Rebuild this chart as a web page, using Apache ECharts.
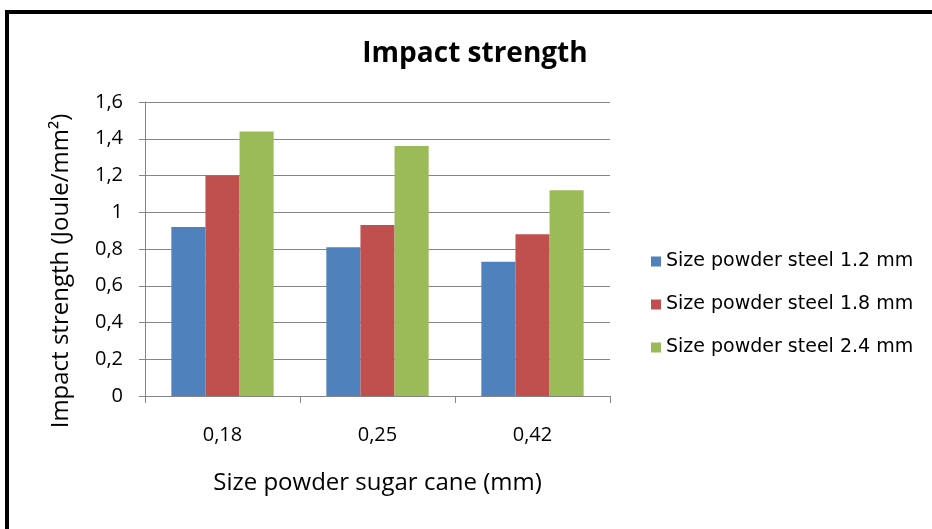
<!DOCTYPE html>
<html>
<head>
<meta charset="utf-8">
<script src="https://cdn.jsdelivr.net/npm/echarts@6/dist/echarts.min.js"></script>
<style>
  html, body { margin: 0; padding: 0; background: #fff; }
  #chart { width: 932px; height: 529px; }
</style>
</head>
<body>
<div id="chart"></div>
<script>
const categories = ['0,18', '0,25', '0,42']
const seriesNames = ['Size powder steel 1.2 mm', 'Size powder steel 1.8 mm', 'Size powder steel 2.4 mm']
const steel12 = [0.92, 0.81, 0.73]
const steel18 = [1.20, 0.93, 0.88]
const steel24 = [1.44, 1.36, 1.12]
const colors = ['#4F81BD', '#C0504D', '#9BBB59']

const myChart = echarts.init(document.getElementById('chart'))
const gray = '#868686'

let opt = {
  animation: false,
  color: colors,
  title: {
    text: 'Impact strength',
    left: 470,
    textAlign: 'center',
    top: 35,
    textStyle: {
      fontFamily: 'Open Sans',
      fontWeight: 'bold',
      fontSize: 28,
      color: '#000'
    }
  },
  graphic: [{
    type: 'rect',
    shape: { x: 7, y: 12, width: 1000, height: 1000 },
    style: { fill: 'none', stroke: '#000', lineWidth: 4 }
  }],
  legend: {
    orient: 'vertical',
    left: 646,
    top: 247,
    itemWidth: 10,
    itemHeight: 10,
    itemGap: 24,
    icon: 'rect',
    textStyle: {
      fontFamily: 'DejaVu Sans',
      fontSize: 19,
      color: '#000'
    }
  },
  grid: {
    left: 145,
    right: 322,
    top: 102,
    bottom: 133
  },
  xAxis: {
    type: 'category',
    data: categories,
    name: 'Size powder sugar cane (mm)',
    nameLocation: 'middle',
    nameGap: 75,
    nameTextStyle: {
      fontFamily: 'Open Sans',
      fontSize: 24,
      color: '#000'
    },
    axisLine: { lineStyle: { color: gray, width: 1 } },
    axisTick: { show: true, length: 7, lineStyle: { color: gray } },
    axisLabel: {
      margin: 29,
      fontFamily: 'Open Sans',
      fontSize: 20,
      color: '#000'
    }
  },
  yAxis: {
    type: 'value',
    min: 0,
    max: 1.6,
    interval: 0.2,
    name: 'Impact strength (Joule/mm²)',
    nameLocation: 'middle',
    nameGap: 72,
    nameTextStyle: {
      fontFamily: 'Open Sans',
      fontSize: 24,
      color: '#000',
      padding: [0, 44, 0, 0]
    },
    axisLine: { show: true, lineStyle: { color: gray, width: 1 } },
    axisTick: { show: true, length: 6, lineStyle: { color: gray } },
    splitLine: { show: true, lineStyle: { color: gray, width: 1 } },
    axisLabel: {
      margin: 22,
      fontFamily: 'Open Sans',
      fontSize: 20,
      color: '#000',
      formatter: v => String(Math.round(v * 10) / 10).replace('.', ',')
    }
  },
  series: [
    { name: seriesNames[0], type: 'bar', data: steel12, barGap: '0%', barCategoryGap: '34%' },
    { name: seriesNames[1], type: 'bar', data: steel18, barGap: '0%', barCategoryGap: '34%' },
    { name: seriesNames[2], type: 'bar', data: steel24, barGap: '0%', barCategoryGap: '34%' }
  ]
}

myChart.setOption(opt, true)
</script>
</body>
</html>
